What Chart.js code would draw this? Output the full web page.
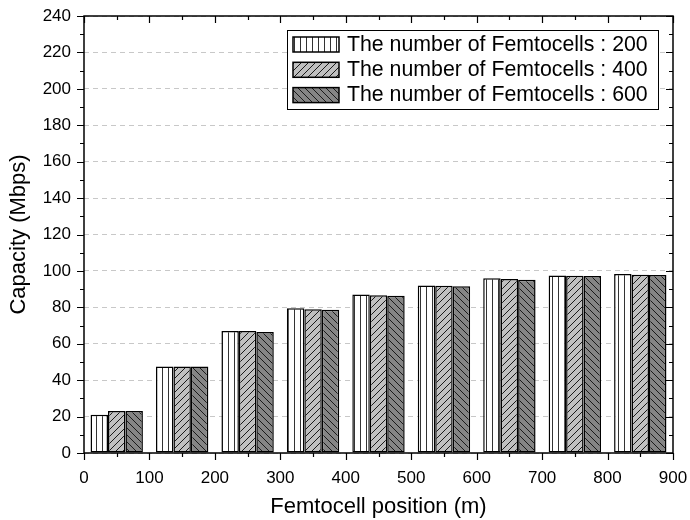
<!DOCTYPE html>
<html>
<head>
<meta charset="utf-8">
<script src="https://cdn.jsdelivr.net/npm/chart.js@4"></script>
<style>
  html, body { margin: 0; padding: 0; background: #fff; }
  #wrap { width: 690px; height: 520px; }
</style>
</head>
<body>
<div id="wrap"><canvas id="chart" width="690" height="520"></canvas></div>
<script>
// Femtocell positions (m) and capacity (Mbps) per femtocell count
const positions = [50, 150, 250, 350, 450, 550, 650, 750, 850];
const cap200 = [21, 47.5, 67, 79.5, 87, 92, 96, 97.5, 98.3];
const cap400 = [23, 47.5, 67, 79, 86.7, 91.8, 95.5, 97.3, 97.9];
const cap600 = [23, 47.5, 66.5, 78.7, 86.4, 91.6, 95.2, 97.2, 97.8];
const seriesLabels = ["The number of Femtocells : 200", "The number of Femtocells : 400", "The number of Femtocells : 600"];
const xTicks = [0, 100, 200, 300, 400, 500, 600, 700, 800, 900];
const yTicks = [0, 20, 40, 60, 80, 100, 120, 140, 160, 180, 200, 220, 240];

const FONT = "'Liberation Sans', Arial, sans-serif";

// hatch patterns
function makePattern(kind) {
    const c = document.createElement("canvas");
    const ctx = c.getContext("2d");
    if (kind === "vert") {
        c.width = 6; c.height = 6;
        ctx.fillStyle = "#ffffff";
        ctx.fillRect(0, 0, 6, 6);
        ctx.strokeStyle = "#333";
        ctx.lineWidth = 1;
        ctx.beginPath();
        ctx.moveTo(0.5, 0); ctx.lineTo(0.5, 6);
        ctx.stroke();
    } else {
        const s = 7;
        c.width = s; c.height = s;
        ctx.fillStyle = kind === "fwd" ? "#c0c0c0" : "#858585";
        ctx.fillRect(0, 0, s, s);
        ctx.strokeStyle = "#1a1a1a";
        ctx.lineWidth = 1;
        ctx.beginPath();
        if (kind === "fwd") {
            ctx.moveTo(-1, s + 1); ctx.lineTo(s + 1, -1);
            ctx.moveTo(-1, 1); ctx.lineTo(1, -1);
            ctx.moveTo(s - 1, s + 1); ctx.lineTo(s + 1, s - 1);
        } else {
            ctx.moveTo(-1, -1); ctx.lineTo(s + 1, s + 1);
            ctx.moveTo(s - 1, -1); ctx.lineTo(s + 1, 1);
            ctx.moveTo(-1, s - 1); ctx.lineTo(1, s + 1);
        }
        ctx.stroke();
    }
    return c.getContext("2d").createPattern(c, "repeat");
}

const patterns = [makePattern("vert"), makePattern("fwd"), makePattern("back")];
const series = [cap200, cap400, cap600];

const datasets = series.map((vals, i) => ({
    label: seriesLabels[i],
    data: positions.map((p, j) => ({ x: p, y: vals[j] })),
    backgroundColor: patterns[i],
    borderColor: "#000",
    borderWidth: 1.5,
    borderSkipped: false,
    categoryPercentage: 0.8,
    barPercentage: 1.0
}));

// axis frame with ticks (major + minor), like the original plot
const framePlugin = {
    id: "frame",
    afterDatasetsDraw(chart) {
        const { ctx, chartArea: a, scales: { x, y } } = chart;
        ctx.save();
        ctx.strokeStyle = "#000";
        ctx.lineWidth = 1.5;
        ctx.strokeRect(a.left, a.top, a.right - a.left, a.bottom - a.top);
        ctx.lineWidth = 1.2;
        ctx.beginPath();
        for (let v = 0; v <= 900; v += 50) {
            const px = Math.round(x.getPixelForValue(v)) + 0.5;
            const len = v % 100 === 0 ? 7 : 4;
            ctx.moveTo(px, a.bottom); ctx.lineTo(px, a.bottom + len);
            ctx.moveTo(px, a.top); ctx.lineTo(px, a.top + len);
        }
        for (let v = 0; v <= 240; v += 10) {
            const py = Math.round(y.getPixelForValue(v)) + 0.5;
            const len = v % 20 === 0 ? 7 : 4;
            ctx.moveTo(a.left, py); ctx.lineTo(a.left - len, py);
            ctx.moveTo(a.right, py); ctx.lineTo(a.right - len, py);
        }
        ctx.stroke();
        ctx.restore();
    },
    afterDraw(chart) {
        // legend box inside the plot
        const ctx = chart.ctx;
        const bx = 287, by = 30, bw = 371, bh = 79;
        ctx.save();
        ctx.fillStyle = "#fff";
        ctx.fillRect(bx, by, bw, bh);
        ctx.strokeStyle = "#000";
        ctx.lineWidth = 1;
        ctx.strokeRect(bx + 0.5, by + 0.5, bw, bh);
        ctx.font = "21.3px " + FONT;
        ctx.textBaseline = "middle";
        chart.data.datasets.forEach((ds, i) => {
            const ry = 37 + i * 25.3;
            ctx.fillStyle = ds.backgroundColor;
            ctx.fillRect(293, ry, 46, 15);
            ctx.lineWidth = 1.5;
            ctx.strokeRect(293, ry, 46, 15);
            ctx.fillStyle = "#000";
            ctx.fillText(ds.label, 347, ry + 8);
        });
        ctx.restore();
    }
};

new Chart(document.getElementById("chart"), {
    type: "bar",
    data: { datasets: datasets },
    options: {
        responsive: false,
        animation: false,
        layout: { padding: { left: 0, right: 17, top: 16, bottom: 0 } },
        plugins: {
            legend: { display: false },
            tooltip: { enabled: false }
        },
        scales: {
            x: {
                type: "linear",
                min: 0,
                max: 900,
                offset: false,
                grid: { display: false, offset: false },
                border: { display: false },
                afterBuildTicks: s => { s.ticks = xTicks.map(v => ({ value: v })); },
                afterFit: s => { s.height = 67; s.paddingLeft = 0; s.paddingRight = 0; },
                ticks: { color: "#000", padding: 7, maxRotation: 0, font: { family: FONT, size: 17 } },
                title: {
                    display: true,
                    text: "Femtocell position (m)",
                    color: "#000",
                    font: { family: FONT, size: 22 },
                    padding: { top: 0, bottom: 0 }
                }
            },
            y: {
                min: 0,
                max: 240,
                afterBuildTicks: s => { s.ticks = yTicks.map(v => ({ value: v })); },
                afterFit: s => { s.width = 84; s.paddingTop = 0; s.paddingBottom = 0; },
                grid: { color: "#c8c8c8", lineWidth: 1, drawTicks: false },
                border: { display: false, dash: [5, 4] },
                ticks: { color: "#000", padding: 13, font: { family: FONT, size: 17 } },
                title: {
                    display: true,
                    text: "Capacity (Mbps)",
                    color: "#000",
                    font: { family: FONT, size: 22 },
                    padding: { top: 6, bottom: 0 }
                }
            }
        }
    },
    plugins: [framePlugin]
});
</script>
</body>
</html>
